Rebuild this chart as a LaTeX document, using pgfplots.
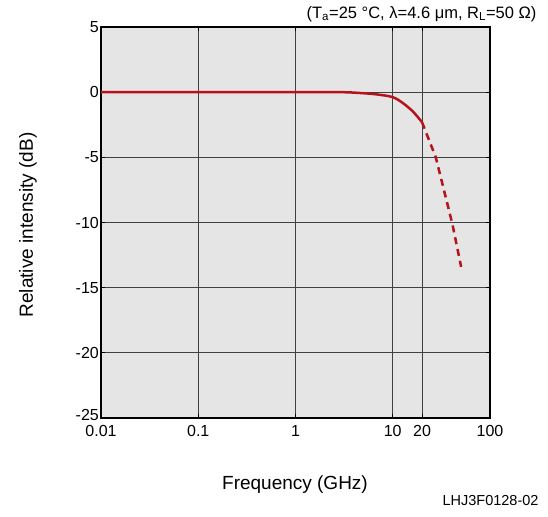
\documentclass[border=0pt]{standalone}
\usepackage{fontspec}
\setmainfont{Liberation Sans}
\usepackage{pgfplots}
\pgfplotsset{compat=1.18}
\definecolor{curvered}{HTML}{B5121B}
\begin{document}
\fontsize{19}{22}\selectfont
\begin{tikzpicture}[x=1pt,y=1pt]
\begin{axis}[
  at={(0,0)}, anchor=south west,
  scale only axis, width=389pt, height=391pt,
  xmode=log, xmin=0.01, xmax=100,
  ymin=-25, ymax=5,
  xtick={0.01,0.1,1,10,20,100},
  xticklabels={0.01,0.1,1,10,20,100},
  log basis x=10,
  ytick={-25,-20,-15,-10,-5,0,5},
  yticklabels={\raisebox{6pt}{-25},-20,-15,-10,-5,0,5},
  minor xtick={},
  grid=major,
  major grid style={black!75, line width=0.8pt},
  axis line style={black, line width=1.6pt},
  tick style={black, line width=0.8pt},
  major tick length=4pt,
  tick align=inside,
  axis background/.style={fill=black!10},
  /pgf/number format/assume math mode=true,
  ticklabel style={font=\fontsize{16}{19}\selectfont},
  xticklabel style={inner sep=1pt, yshift=-6pt},
  yticklabel style={inner sep=2pt},
  clip=false,
]
\addplot[curvered, line width=2.5pt, smooth] coordinates {
 (0.01,0) (0.1,0) (1,0) (3,0) (5,-0.08) (7,-0.18) (10,-0.38) (12.8,-0.85) (16.2,-1.5) (20,-2.3)
};
\addplot[curvered, line width=2.5pt, dash pattern=on 7pt off 5pt] coordinates {
 (20,-2.3) (27.7,-5) (41,-10.1) (50.5,-13.4)
};
\end{axis}
\node[anchor=east, font=\fontsize{16.5}{19}\selectfont] at (442,404) {(T\textsubscript{a}=25 °C, λ=4.6 μm, R\textsubscript{L}=50 Ω)};
\node at (194,-67) {Frequency (GHz)};
\node[rotate=90] at (-73,193) {Relative intensity (dB)};
\node[anchor=east, font=\fontsize{14.5}{17}\selectfont] at (444,-82) {LHJ3F0128-02};
\useasboundingbox (-101,-98) rectangle (447,418);
\end{tikzpicture}
\end{document}
